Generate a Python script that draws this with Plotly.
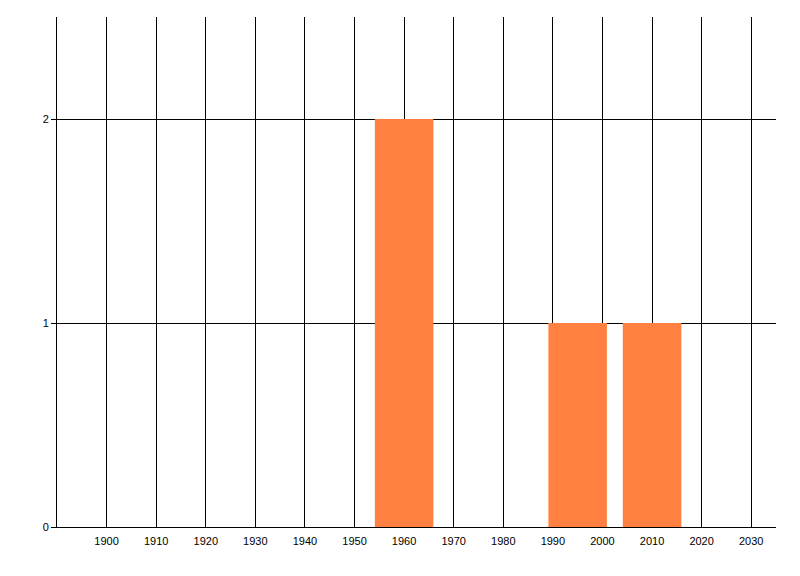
import plotly.graph_objects as go

# decade centres of the bars and their counts
years = [1960, 1995, 2010]
counts = [2, 1, 1]

x_ticks = list(range(1900, 2031, 10))
y_ticks = [0, 1, 2]

fig = go.Figure()

fig.add_trace(go.Bar(
    x=years,
    y=counts,
    width=11.8,
    marker=dict(color="#FF8040", line=dict(width=0)),
))

# page body adds an 8px offset, margins account for it
fig.update_layout(
    width=800,
    height=576,
    margin=dict(l=49, r=32, t=9, b=57),
    plot_bgcolor="white",
    paper_bgcolor="white",
    showlegend=False,
    font=dict(family="Liberation Sans", size=11, color="black"),
)

fig.update_xaxes(
    range=[1890, 2035],
    tickvals=x_ticks,
    ticktext=[str(v) for v in x_ticks],
    showgrid=True,
    gridcolor="black",
    gridwidth=1,
    showline=True,
    linecolor="black",
    linewidth=1,
    ticks="",
    ticklabelstandoff=4,
    zeroline=False,
    tickfont=dict(size=11),
)

fig.update_yaxes(
    range=[0, 2.5],
    tickvals=y_ticks,
    showgrid=True,
    gridcolor="black",
    gridwidth=1,
    showline=True,
    linecolor="black",
    linewidth=1,
    ticks="outside",
    ticklen=5,
    tickcolor="black",
    zeroline=False,
    tickfont=dict(size=11),
)

fig.write_html("out.html")
